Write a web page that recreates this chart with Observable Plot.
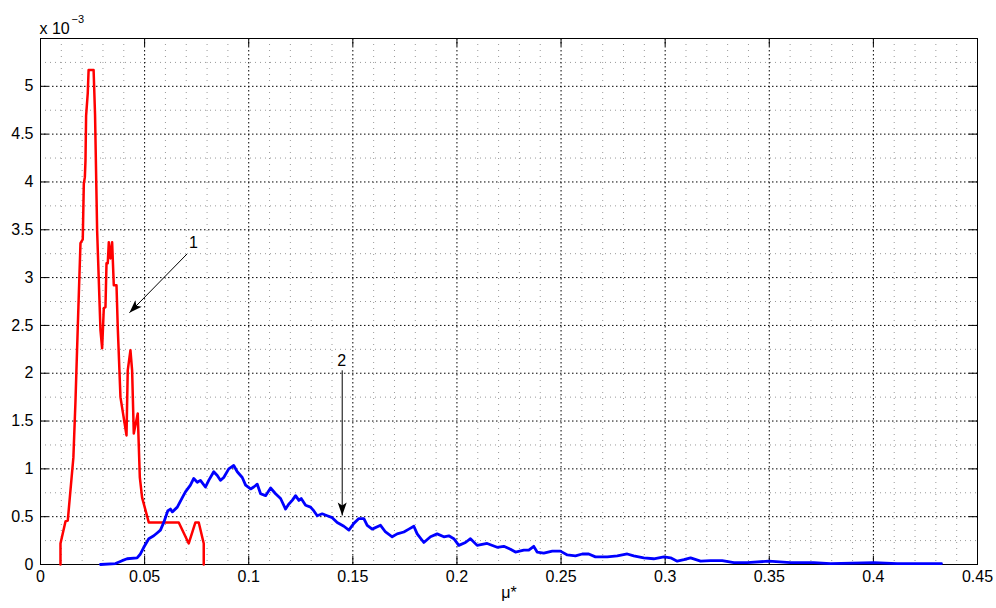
<!DOCTYPE html>
<html><head><meta charset="utf-8">
<script src="https://cdn.jsdelivr.net/npm/d3@7"></script>
<script src="https://cdn.jsdelivr.net/npm/@observablehq/plot@0.6"></script>
<style>
html,body{margin:0;padding:0;background:#fff;}
#wrap{width:996px;height:608px;}
</style></head><body><div id="wrap"></div>
<script>
// ---- data (y values in units of 1e-3) ----
const xTicks = [0, 0.05, 0.1, 0.15, 0.2, 0.25, 0.3, 0.35, 0.4, 0.45];
const yTicks = [0, 0.5, 1, 1.5, 2, 2.5, 3, 3.5, 4, 4.5, 5];
const xMinor = d3.range(0.01, 0.45, 0.01).filter(v => Math.abs(v / 0.05 - Math.round(v / 0.05)) > 1e-6);
const yMinor = [0.25, 0.75, 1.25, 1.75, 2.25, 2.75, 3.25, 3.75, 4.25, 4.75, 5.25];
const yExtra = [5.5];
const xLabel = "μ*";
const yMultiplier = ["x 10", "−3"];

const curve1 = [
  [0.0096, 0], [0.0096, 0.22], [0.0120, 0.45], [0.0131, 0.46], [0.0158, 1.12], [0.0168, 1.71],
  [0.0182, 2.69], [0.0192, 3.36], [0.0203, 3.40], [0.0208, 3.98], [0.0213, 4.05], [0.0216, 4.22],
  [0.0219, 4.69], [0.0227, 4.93], [0.0231, 5.17], [0.0255, 5.17], [0.0262, 4.70], [0.0272, 3.49],
  [0.0288, 2.45], [0.0296, 2.26], [0.0304, 2.68], [0.0312, 2.69], [0.0317, 3.15], [0.0323, 3.15],
  [0.0328, 3.37], [0.0336, 3.20], [0.0344, 3.37], [0.0352, 2.92], [0.0365, 2.92], [0.0371, 2.48],
  [0.0384, 1.75], [0.0413, 1.35], [0.0419, 2.03], [0.0432, 2.24], [0.0440, 2.03], [0.0448, 1.37],
  [0.0467, 1.58], [0.0477, 0.91], [0.0488, 0.70], [0.0520, 0.44], [0.0664, 0.44], [0.0712, 0.22],
  [0.0744, 0.44], [0.0760, 0.44], [0.0784, 0.22], [0.0784, 0]
];

const curve2 = [
  [0.0288, 0], [0.0360, 0.01], [0.0392, 0.04], [0.0416, 0.06], [0.0464, 0.07], [0.0480, 0.11],
  [0.0496, 0.18], [0.0520, 0.27], [0.0544, 0.30], [0.0560, 0.33], [0.0576, 0.36], [0.0592, 0.44],
  [0.0611, 0.56], [0.0624, 0.58], [0.0633, 0.55], [0.0657, 0.60], [0.0681, 0.70], [0.0696, 0.76],
  [0.0720, 0.83], [0.0736, 0.90], [0.0753, 0.86], [0.0768, 0.88], [0.0792, 0.81], [0.0808, 0.88],
  [0.0832, 0.97], [0.0849, 0.93], [0.0864, 0.88], [0.0880, 0.91], [0.0904, 1.00], [0.0928, 1.035],
  [0.0945, 0.97], [0.0969, 0.91], [0.0985, 0.83], [0.1009, 0.79], [0.1024, 0.81], [0.1041, 0.84],
  [0.1057, 0.74], [0.1081, 0.72], [0.1105, 0.80], [0.1129, 0.74], [0.1153, 0.69], [0.1177, 0.58],
  [0.1192, 0.63], [0.1209, 0.67], [0.1225, 0.72], [0.1241, 0.67], [0.1252, 0.69], [0.1273, 0.62],
  [0.1297, 0.60], [0.1313, 0.56], [0.1329, 0.51], [0.1353, 0.53], [0.1377, 0.51], [0.1401, 0.49],
  [0.1425, 0.44], [0.1457, 0.40], [0.1481, 0.36], [0.1505, 0.43], [0.1529, 0.48], [0.1553, 0.48],
  [0.1569, 0.41], [0.1593, 0.37], [0.1633, 0.41], [0.1657, 0.34], [0.1689, 0.29], [0.1713, 0.32],
  [0.1745, 0.34], [0.1769, 0.37], [0.1793, 0.40], [0.1809, 0.32], [0.1841, 0.23], [0.1873, 0.29],
  [0.1905, 0.32], [0.1937, 0.29], [0.1961, 0.30], [0.1985, 0.27], [0.2009, 0.20], [0.2041, 0.23],
  [0.2065, 0.27], [0.2097, 0.20], [0.2145, 0.22], [0.2193, 0.18], [0.2225, 0.19], [0.2257, 0.16],
  [0.2281, 0.13], [0.2321, 0.15], [0.2345, 0.15], [0.2369, 0.19], [0.2385, 0.13], [0.2417, 0.12],
  [0.2458, 0.14], [0.2497, 0.14], [0.2530, 0.10], [0.2569, 0.09], [0.2602, 0.11], [0.2633, 0.11],
  [0.2665, 0.08], [0.2722, 0.08], [0.2770, 0.09], [0.2818, 0.11], [0.2849, 0.09], [0.2897, 0.07],
  [0.2945, 0.06], [0.2994, 0.08], [0.3026, 0.07], [0.3058, 0.035], [0.3090, 0.05], [0.3122, 0.07],
  [0.3170, 0.035], [0.3218, 0.04], [0.3274, 0.04], [0.3330, 0.02], [0.3394, 0.02], [0.3498, 0.035],
  [0.3602, 0.02], [0.3714, 0.02], [0.3794, 0.01], [0.4002, 0.02], [0.4114, 0.01], [0.4327, 0.01]
];

const labelNames = ["1", "2"];
const labelX = [0.0735, 0.1446];
const labelY = [3.36, 2.13];
const arrowStartX = [0.0705, 0.1449];
const arrowStartY = [3.25, 2.03];
const arrowTipX = [0.0427, 0.1449];
const arrowTipY = [2.632, 0.512];

// ---- layout ----
const W = 996, H = 608, mL = 40, mR = 19, mT = 38, mB = 44;
const innerW = W - mL - mR, innerH = H - mT - mB;
const xDomain = [0, 0.45], yDomain = [0, 5.5];
const kx = innerW / (xDomain[1] - xDomain[0]);
const ky = -innerH / (yDomain[1] - yDomain[0]);
const fmt = d => String(+d.toFixed(2));
const font = "'Liberation Sans', Arial, Helvetica, sans-serif";

const annots = labelNames.map((t, i) => ({t, x: labelX[i], y: labelY[i]}));
const arrows = labelNames.map((t, i) => ({x1: arrowStartX[i], y1: arrowStartY[i], x2: arrowTipX[i], y2: arrowTipY[i]}));

function headSymbol(a) {
  let ux = (a.x2 - a.x1) * kx, uy = (a.y2 - a.y1) * ky;
  const n = Math.hypot(ux, uy); ux /= n; uy /= n;
  const L = 13, Wd = 4.5, N = 10, px = -uy, py = ux;
  return {draw(ctx) {
    ctx.moveTo(0, 0);
    ctx.lineTo(-ux * L + px * Wd, -uy * L + py * Wd);
    ctx.lineTo(-ux * N, -uy * N);
    ctx.lineTo(-ux * L - px * Wd, -uy * L - py * Wd);
    ctx.closePath();
  }};
}

const chart = Plot.plot({
  width: W, height: H,
  marginLeft: mL, marginRight: mR, marginTop: mT, marginBottom: mB,
  style: {fontFamily: font, fontSize: "16px", background: "white", color: "black", overflow: "visible"},
  x: {domain: xDomain, label: null},
  y: {domain: yDomain, label: null},
  marks: [
    Plot.ruleX(xMinor, {stroke: "#999", strokeDasharray: "1,5", strokeWidth: 1}),
    Plot.ruleY(yMinor, {stroke: "#999", strokeDasharray: "1,4", strokeWidth: 1}),
    Plot.ruleX(xTicks, {stroke: "#000", strokeDasharray: "1.5,2.5", strokeWidth: 1}),
    Plot.ruleY(yTicks.concat(yExtra), {stroke: "#000", strokeDasharray: "1.5,2.5", strokeWidth: 1}),
    Plot.ruleX(xTicks, {stroke: "#000", insetTop: innerH - 8}),
    Plot.ruleX(xTicks, {stroke: "#000", insetBottom: innerH - 8}),
    Plot.ruleY(yTicks, {stroke: "#000", insetRight: innerW - 8}),
    Plot.ruleY(yTicks, {stroke: "#000", insetLeft: innerW - 8}),
    Plot.frame({stroke: "#000", strokeWidth: 1}),
    Plot.axisX(xTicks, {tickSize: 0, tickPadding: 6, tickFormat: fmt, fontSize: 16, label: null}),
    Plot.axisY(yTicks, {tickSize: 0, tickPadding: 7, tickFormat: fmt, fontSize: 16, label: null}),
    Plot.line(curve1, {x: d => d[0], y: d => d[1], stroke: "#ff0000", strokeWidth: 2.5, strokeLinejoin: "round"}),
    Plot.line(curve2, {x: d => d[0], y: d => d[1], stroke: "#0000ff", strokeWidth: 2.8, strokeLinejoin: "round"}),
    Plot.link(arrows, {x1: "x1", y1: "y1", x2: "x2", y2: "y2", stroke: "#000", strokeWidth: 1}),
    ...arrows.map(a => Plot.dot([a], {x: "x2", y: "y2", symbol: headSymbol(a), r: 5, fill: "#000", stroke: "none"})),
    Plot.text(annots, {x: "x", y: "y", text: "t", fontSize: 16}),
    Plot.text([xLabel], {frameAnchor: "bottom", dy: 33, fontSize: 16}),
    Plot.text([yMultiplier[0]], {frameAnchor: "top-left", textAnchor: "start", lineAnchor: "bottom", dx: -1, dy: -5, fontSize: 16}),
    Plot.text([yMultiplier[1]], {frameAnchor: "top-left", textAnchor: "start", lineAnchor: "bottom", dx: 31, dy: -16, fontSize: 11})
  ]
});
document.getElementById("wrap").appendChild(chart);
</script>
</body></html>
